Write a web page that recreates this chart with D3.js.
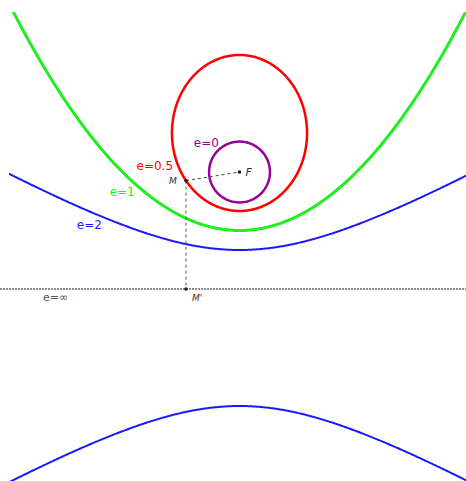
<!DOCTYPE html>
<html>
<head>
<meta charset="utf-8">
<script src="https://cdn.jsdelivr.net/npm/d3@7"></script>
<style>
  body { margin: 0; background: #fff; }
  text { font-family: "DejaVu Sans", sans-serif; }
</style>
</head>
<body>
<div id="chart"></div>
<script>
// focus F at (0, 1), directrix y = 0 (units = focus-directrix distance)
var eccentricities = [0, 0.5, 1, 2];
var curveLabels = ["e=0", "e=0.5", "e=1", "e=2"];
var curveColors = ["#990099", "#ff0000", "#1fee1f", "#1a1aff"];
var curveWidths = [2.5, 2.5, 3, 2];
var circleRadius = 0.26;          // e=0 circle drawn round F
var focus = [0, 1];
var pointMx = -0.457;             // M on the ellipse, M' below it on the directrix
var labelPos = [[-0.39, 1.25], [-0.88, 1.05], [-1.11, 0.83], [-1.39, 0.55]];

var svgWidth = 466;
var svgHeight = 481;

var svg = d3.select("#chart")
  .append("svg")
  .attr("width", svgWidth)
  .attr("height", svgHeight);

var x = d3.scaleLinear().domain([-2, 2]).range([5.5, 473.5]);
var y = d3.scaleLinear().domain([0, 1]).range([289, 172]);

svg.append("clipPath")
  .attr("id", "frame")
  .append("rect")
  .attr("x", 9).attr("y", 12)
  .attr("width", svgWidth - 9).attr("height", svgHeight - 12);

var line = d3.line().x(d => x(d[0])).y(d => y(d[1]));

// sample a conic: |PF| = e * dist(P, directrix)
function conicPoints(e) {
  var pts = [];
  if (e === 0) {
    for (var i = 0; i <= 200; i++) {
      var t = i / 200 * 2 * Math.PI;
      pts.push([focus[0] + circleRadius * Math.cos(t), focus[1] + circleRadius * Math.sin(t)]);
    }
    return [pts];
  }
  if (e < 1) {
    for (var i = 0; i <= 400; i++) {
      var t = i / 400 * 2 * Math.PI;
      var r = e / (1 + e * Math.cos(t));
      pts.push([r * Math.sin(t), 1 - r * Math.cos(t)]);
    }
    return [pts];
  }
  var upper = [], lower = [];
  for (var i = 0; i <= 400; i++) {
    var xv = -2.1 + i / 400 * 4.2;
    if (e === 1) {
      upper.push([xv, (xv * xv + 1) / 2]);
    } else {
      var k = e * e - 1;
      var s = Math.sqrt(1 + k * (1 + xv * xv));
      upper.push([xv, (-1 + s) / k]);
      lower.push([xv, (-1 - s) / k]);
    }
  }
  return e === 1 ? [upper] : [upper, lower];
}

// directrix (e = infinity)
svg.append("line")
  .attr("x1", 0).attr("x2", svgWidth)
  .attr("y1", y(0)).attr("y2", y(0))
  .attr("stroke", "#666")
  .attr("stroke-width", 1.5)
  .attr("stroke-dasharray", "2,1");

eccentricities.forEach(function (e, i) {
  conicPoints(e).forEach(function (pts) {
    svg.append("path")
      .attr("d", line(pts))
      .attr("clip-path", "url(#frame)")
      .attr("fill", "none")
      .attr("stroke", curveColors[i])
      .attr("stroke-width", curveWidths[i]);
  });
  svg.append("text")
    .attr("x", x(labelPos[i][0]))
    .attr("y", y(labelPos[i][1]))
    .attr("dy", "0.35em")
    .attr("font-size", "12px")
    .attr("fill", curveColors[i])
    .text(curveLabels[i]);
});

svg.append("text")
  .attr("x", x(-1.68)).attr("y", y(-0.07))
  .attr("dy", "0.35em")
  .attr("font-size", "11px")
  .attr("fill", "#555")
  .text("e=\u221e");

// M on the ellipse (e=0.5)
var mx = pointMx;
var my = (2 - Math.sqrt(4 - 3 * (1 + mx * mx))) / 1.5;

svg.append("line")
  .attr("x1", x(mx)).attr("y1", y(my))
  .attr("x2", x(focus[0])).attr("y2", y(focus[1]))
  .attr("stroke", "#444").attr("stroke-width", 1)
  .attr("stroke-dasharray", "3,3");

svg.append("line")
  .attr("x1", x(mx)).attr("y1", y(my))
  .attr("x2", x(mx)).attr("y2", y(0))
  .attr("stroke", "#555").attr("stroke-width", 1)
  .attr("stroke-dasharray", "3,3");

[[mx, my], [mx, 0], focus].forEach(function (p) {
  svg.append("circle")
    .attr("cx", x(p[0])).attr("cy", y(p[1]))
    .attr("r", 1.8)
    .attr("fill", "#222");
});

svg.append("text")
  .attr("x", x(focus[0]) + 6).attr("y", y(focus[1]))
  .attr("dy", "0.35em")
  .attr("font-size", "11px").attr("font-style", "italic")
  .attr("fill", "#333")
  .text("F");

svg.append("text")
  .attr("x", x(mx) - 17).attr("y", y(my))
  .attr("dy", "0.35em")
  .attr("font-size", "9px").attr("font-style", "italic")
  .attr("fill", "#333")
  .text("M");

svg.append("text")
  .attr("x", x(mx) + 6).attr("y", y(0) + 9)
  .attr("dy", "0.35em")
  .attr("font-size", "9px").attr("font-style", "italic")
  .attr("fill", "#333")
  .text("M'");
</script>
</body>
</html>
